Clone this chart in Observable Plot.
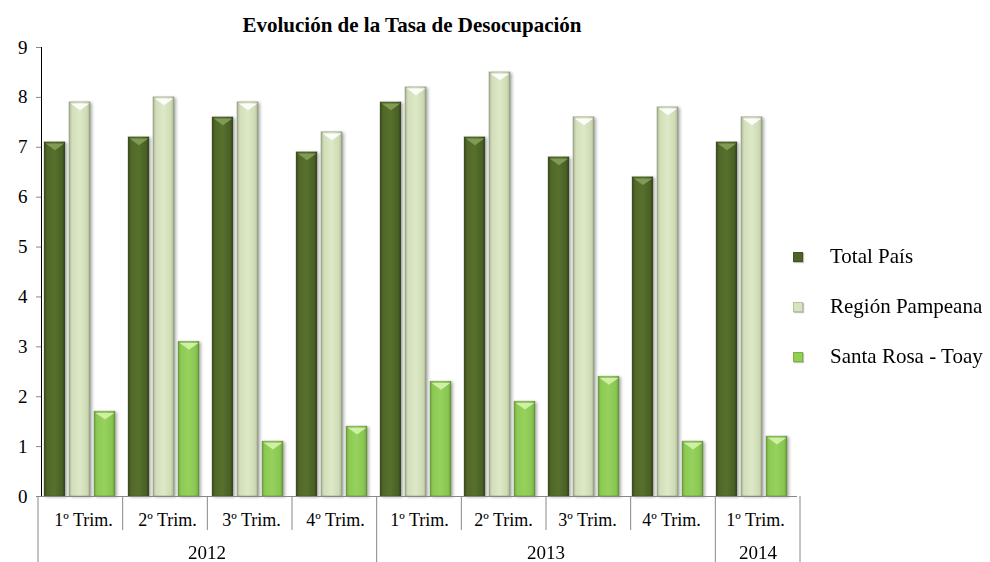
<!DOCTYPE html>
<html><head><meta charset="utf-8">
<script src="https://cdn.jsdelivr.net/npm/d3@7"></script>
<script src="https://cdn.jsdelivr.net/npm/@observablehq/plot@0.6"></script>
<style>
body{margin:0;background:#fff;font-family:"Liberation Serif",serif;}
#wrap{position:relative;width:990px;height:562px;overflow:hidden;}
#title{height:40px;width:824px;text-align:center;font-weight:bold;font-size:21px;line-height:24px;padding-top:13px;box-sizing:border-box;color:#000;white-space:nowrap;}
#chart{position:absolute;left:0;top:40px;}
#legend{position:absolute;left:793px;top:240px;font-size:21px;color:#000;}
.lrow{position:relative;height:50px;}
.sw{position:absolute;left:0;top:12px;width:10px;height:10px;box-sizing:border-box;}
.lt{position:absolute;left:37px;top:4px;line-height:24px;white-space:nowrap;}
</style></head><body>
<div id="wrap">
<div id="title">Evolución de la Tasa de Desocupación</div>
<div id="chart"></div>
<div id="legend"></div>
</div>
<script>
const groupKeys = ["2012-1","2012-2","2012-3","2012-4","2013-1","2013-2","2013-3","2013-4","2014-1"];
const quarterLabels = ["1º Trim.","2º Trim.","3º Trim.","4º Trim.","1º Trim.","2º Trim.","3º Trim.","4º Trim.","1º Trim."];
const groupYears = ["2012","2012","2012","2012","2013","2013","2013","2013","2014"];
const years = ["2012","2013","2014"];
const series = ["Total País","Región Pampeana","Santa Rosa - Toay"];
const totalPais = [7.1,7.2,7.6,6.9,7.9,7.2,6.8,6.4,7.1];
const regionPampeana = [7.9,8.0,7.9,7.3,8.2,8.5,7.6,7.8,7.6];
const santaRosa = [1.7,3.1,1.1,1.4,2.3,1.9,2.4,1.1,1.2];
const yTicks = [0,1,2,3,4,5,6,7,8,9];
const seriesValues = [totalPais, regionPampeana, santaRosa];
const swatchColors = ["#4f6228","#d7e4bd","#92d050"];
const highlightColors = ["#86a05a","#ffffff","#d6f3ab"];

const data = [];
groupKeys.forEach((g,i)=>series.forEach((s,j)=>data.push({group:g, serie:s, value:seriesValues[j][i]})));

// flattened downward triangle used as the bevel highlight on bar tops
const vSymbol = {draw(ctx, size){ const w = Math.sqrt(size); ctx.moveTo(-w/2,0); ctx.lineTo(w/2,0); ctx.lineTo(0,w*0.36); ctx.closePath(); }};

const plot = Plot.plot({
  width:990, height:522,
  marginLeft:38, marginRight:190, marginTop:7, marginBottom:66,
  style:{fontFamily:"Liberation Serif", fontSize:"19px", color:"#000", background:"transparent", overflow:"visible"},
  fx:{domain:groupKeys, padding:0, label:null, tickSize:0, tickPadding:17,
      tickFormat:k=>quarterLabels[groupKeys.indexOf(k)]},
  x:{domain:series, axis:null, paddingInner:0.17, paddingOuter:0.22, align:0.25},
  y:{domain:[0,9], ticks:yTicks, tickSize:5, tickPadding:9, label:null, line:true},
  color:{domain:series, range:["url(#gTotal)","url(#gRegion)","url(#gSanta)"]},
  marks:[
    Plot.barY(data,{fx:"group", x:"serie", y:"value", fill:"serie", stroke:"rgba(60,70,40,0.35)", strokeWidth:0.8}),
    ...series.map((s,j)=>Plot.dot(data,{filter:d=>d.serie===s, fx:"group", x:"serie", y:"value", dy:1.2,
        symbol:vSymbol, r:10.5, fill:highlightColors[j], fillOpacity:0.9, stroke:"none"})),
    Plot.ruleY([0],{stroke:"#888"})
  ]
});

const svg = d3.select(plot);
svg.selectAll("[aria-label='y-axis'] path, [aria-label='y-axis tick'] path").attr("stroke","#888");
svg.selectAll("[aria-label='fx-axis'] text, [aria-label='fx-axis tick label'] text").attr("font-size",18);
const defs = svg.insert("defs",":first-child");
function grad(id, stops){
  const g = defs.append("linearGradient").attr("id",id).attr("x1","0").attr("x2","1").attr("y1","0").attr("y2","0");
  stops.forEach(([o,c])=>g.append("stop").attr("offset",o).attr("stop-color",c));
}
grad("gTotal",[["0%","#3a4a1c"],["15%","#516829"],["50%","#56702d"],["85%","#4b6126"],["100%","#33421a"]]);
grad("gRegion",[["0%","#a8b493"],["14%","#d2deb9"],["50%","#dde8c7"],["86%","#cfdbb5"],["100%","#a3af8e"]]);
grad("gSanta",[["0%","#6ea63a"],["14%","#8dca55"],["50%","#95d15c"],["86%","#89c551"],["100%","#69a035"]]);
const f = defs.append("filter").attr("id","shadow").attr("x","-20%").attr("y","-5%").attr("width","150%").attr("height","115%");
f.append("feDropShadow").attr("dx",2).attr("dy",1).attr("stdDeviation",1.5).attr("flood-color","#000").attr("flood-opacity",0.3);
svg.selectAll("[aria-label='bar']").attr("filter","url(#shadow)");

// hierarchical category axis using the fx scale
const fxs = plot.scale("fx");
const r0 = fxs.range[0], r1 = fxs.range[1];
const step = (r1 - r0) / groupKeys.length;
const left = i => r0 + i*step;
const y0 = 456;
const ax = svg.append("g").attr("stroke","#888").attr("stroke-width",1);
groupKeys.forEach((k,i)=>{
  const yearStart = i===0 || groupYears[i]!==groupYears[i-1];
  ax.append("line").attr("x1",left(i)).attr("x2",left(i)).attr("y1",y0).attr("y2", yearStart ? 522 : 490);
});
ax.append("line").attr("x1",r1).attr("x2",r1).attr("y1",y0).attr("y2",522);
const yt = svg.append("g").attr("font-family","Liberation Serif").attr("font-size",19).attr("text-anchor","middle").attr("fill","#000");
years.forEach(y=>{
  const idx = groupYears.map((g,i)=>g===y?i:-1).filter(i=>i>=0);
  const cx = (left(idx[0]) + left(idx[idx.length-1]) + step)/2;
  yt.append("text").attr("x",Math.round(cx)).attr("y",519).text(y);
});

document.getElementById("chart").appendChild(plot);

const lg = d3.select("#legend");
series.forEach((s,j)=>{
  const row = lg.append("div").attr("class","lrow");
  row.append("div").attr("class","sw").style("background",swatchColors[j]).style("border","1px solid rgba(0,0,0,0.15)").style("box-shadow","1px 1px 1px rgba(0,0,0,0.25)");
  row.append("div").attr("class","lt").text(s);
});
</script>
</body></html>
